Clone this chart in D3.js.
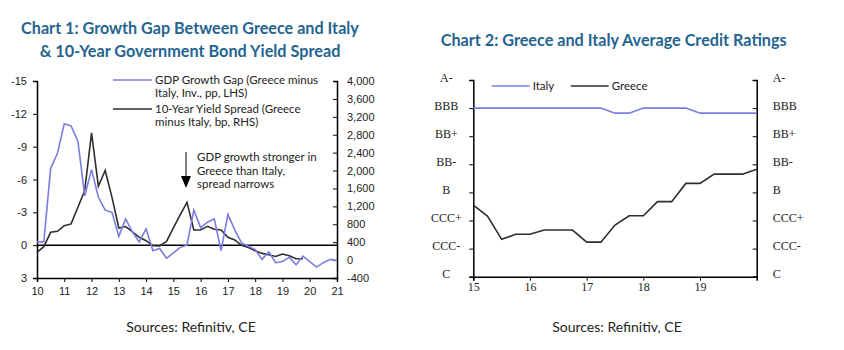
<!DOCTYPE html>
<html>
<head>
<meta charset="utf-8">
<script src="https://cdn.jsdelivr.net/npm/d3@7"></script>
<style>
  body { margin: 0; background: #fff; }
  svg { display: block; font-family: Lato, "Open Sans", sans-serif; }
  .title { fill: #24648f; font-weight: bold; }
  .tick text { fill: #222; font-size: 11px; }
  .serif .tick text { font-family: "Liberation Serif", "DejaVu Serif", serif; font-size: 12px; }
  .lbl { fill: #222; font-size: 11.5px; }
</style>
</head>
<body>
<svg id="chart" width="844" height="350"></svg>
<script>
// Chart 1 data: quarterly 2010Q1 .. 2021Q1
const gdpGap = [-0.3, -0.3, -7.0, -8.4, -11.1, -10.9, -9.5, -4.5, -6.9, -4.4, -3.2, -3.0,
  -0.8, -2.4, -1.2, -0.3, -1.5, 0.5, 0.3, 1.2, 0.7, 0.2, 0.0, -3.2, -1.6, -2.1, -2.4, 0.5,
  -2.8, -1.4, -0.2, 0.1, 0.4, 1.3, 0.6, 1.6, 1.5, 1.1, 1.8, 1.0, 1.5, 2.0, 1.6, 1.3, 1.4];
const yieldSpread = [170, 300, 620, 642, 770, 808, 1180, 1553, 2840, 1650, 2000, 1400,
  718, 750, 630, 510, 434, 322, 315, 418, 720, 1010, 1290, 673, 673, 755, 690, 673,
  508, 450, 330, 280, 210, 150, 120, 80, 136, 98, 30, 30];
const leftTicks = [-15, -12, -9, -6, -3, 0, 3];
const rightTicks = [4000, 3600, 3200, 2800, 2400, 2000, 1600, 1200, 800, 400, 0, -400];
const years1 = [2010, 2011, 2012, 2013, 2014, 2015, 2016, 2017, 2018, 2019, 2020, 2021];

// Chart 2 data: quarterly 2015Q1 .. 2020Q1, rating notch index
const ratingLabels = ["C", "CCC-", "CCC+", "B", "BB-", "BB+", "BBB", "A-"];
const italy = [6, 6, 6, 6, 6, 6, 6, 6, 6, 6, 5.82, 5.82, 6, 6, 6, 6, 5.82, 5.82, 5.82, 5.82, 5.82];
const greece = [2.55, 2.16, 1.33, 1.51, 1.51, 1.66, 1.66, 1.66, 1.23, 1.23, 1.84, 2.17, 2.17,
  2.67, 2.67, 3.32, 3.32, 3.65, 3.65, 3.65, 3.82];
const years2 = [2015, 2016, 2017, 2018, 2019];

const blue = "#7c7ce0";
const dark = "#2e2e2e";

const svg = d3.select("#chart");
const loc = d3.formatLocale({ decimal: ".", thousands: ",", grouping: [3], currency: ["", ""], minus: "-" });

// fit a text element to a target width by adjusting its font size
function fit(sel, w) {
  const cur = sel.node().getComputedTextLength();
  const fs = parseFloat(sel.attr("font-size"));
  sel.attr("font-size", fs * w / cur);
}

// ---------- Chart 1 ----------
const x1 = d3.scaleLinear().domain([2010, 2021]).range([37, 337]);
const yL = d3.scaleLinear().domain([-15, 3]).range([81, 278]);
const yR = d3.scaleLinear().domain([4000, -400]).range([81, 278]);

const t1a = svg.append("text").attr("class", "title").attr("x", 190).attr("y", 34)
  .attr("text-anchor", "middle").attr("font-size", 16)
  .text("Chart 1: Growth Gap Between Greece and Italy");
fit(t1a, 338);
const t1b = svg.append("text").attr("class", "title").attr("x", 190).attr("y", 57)
  .attr("text-anchor", "middle").attr("font-size", 16)
  .text("& 10-Year Government Bond Yield Spread");
fit(t1b, 301);

const g1 = svg.append("g");

g1.append("g").attr("transform", "translate(37,0)")
  .call(d3.axisLeft(yL).tickValues(leftTicks).tickSize(4).tickPadding(6).tickFormat(loc.format("d")))
  .call(g => g.select(".domain").attr("stroke", "#000").attr("stroke-width", 1.5));

g1.append("g").attr("transform", "translate(337,0)")
  .call(d3.axisRight(yR).tickValues(rightTicks).tickSize(-4).tickPadding(10).tickFormat(loc.format(",")))
  .call(g => g.select(".domain").attr("stroke", "#000").attr("stroke-width", 1.5));

g1.append("g").attr("transform", "translate(0,278)")
  .call(d3.axisBottom(x1).tickValues(years1).tickSize(4).tickPadding(5).tickFormat(d => String(d).slice(2)))
  .call(g => g.select(".domain").attr("stroke", "#000").attr("stroke-width", 1.5))
  .call(g => g.selectAll(".tick text").attr("font-size", 12));

g1.append("line")
  .attr("x1", x1(2010)).attr("x2", x1(2021))
  .attr("y1", yL(0)).attr("y2", yL(0))
  .attr("stroke", "#000").attr("stroke-width", 1.5);

const q1 = (d, i) => 2010 + i * 0.25;

g1.append("path").datum(yieldSpread)
  .attr("fill", "none").attr("stroke", dark).attr("stroke-width", 1.6)
  .attr("d", d3.line().x((d, i) => x1(q1(d, i))).y(d => yR(d)));

g1.append("path").datum(gdpGap)
  .attr("fill", "none").attr("stroke", blue).attr("stroke-width", 1.6)
  .attr("d", d3.line().x((d, i) => x1(q1(d, i))).y(d => yL(d)));

// legend
const leg1 = [
  { color: blue, y: 80, lines: ["GDP Growth Gap (Greece minus", "Italy, Inv., pp, LHS)"] },
  { color: dark, y: 109, lines: ["10-Year Yield Spread (Greece", "minus Italy, bp, RHS)"] }
];
leg1.forEach(l => {
  g1.append("line").attr("x1", 113).attr("x2", 152).attr("y1", l.y).attr("y2", l.y)
    .attr("stroke", l.color).attr("stroke-width", 1.6);
  l.lines.forEach((s, k) => {
    g1.append("text").attr("class", "lbl").attr("x", 155).attr("y", l.y + 4 + k * 13).text(s);
  });
});

// annotation
g1.append("line").attr("x1", 186).attr("x2", 186).attr("y1", 152).attr("y2", 177)
  .attr("stroke", "#000").attr("stroke-width", 1);
g1.append("path").attr("d", "M181,176 L191,176 L186,188 Z").attr("fill", "#000");
["GDP growth stronger in", "Greece than Italy,", "spread narrows"].forEach((s, k) => {
  g1.append("text").attr("class", "lbl").attr("x", 197).attr("y", 161 + k * 13.5).text(s);
});

svg.append("text").attr("x", 191).attr("y", 332).attr("text-anchor", "middle")
  .attr("font-size", 14).attr("fill", "#222").text("Sources: Refinitiv, CE");

// ---------- Chart 2 ----------
const x2 = d3.scaleLinear().domain([2015, 2020]).range([473.3, 756.7]);
const y2 = d3.scaleLinear().domain([0, 7]).range([276.7, 80]);

const t2 = svg.append("text").attr("class", "title").attr("x", 613.7).attr("y", 46)
  .attr("text-anchor", "middle").attr("font-size", 16)
  .text("Chart 2: Greece and Italy Average Credit Ratings");
fit(t2, 346);

const g2 = svg.append("g").attr("class", "serif");
const ratingIdx = d3.range(ratingLabels.length);

g2.append("g").attr("transform", "translate(473.3,0)")
  .call(d3.axisLeft(y2).tickValues(ratingIdx).tickSize(4).tickPadding(0).tickFormat(i => ratingLabels[i]))
  .call(g => g.select(".domain").attr("stroke", "#000").attr("stroke-width", 1.5))
  .call(g => g.selectAll(".tick text").attr("text-anchor", "middle").attr("x", -27).attr("dy", "0.1em"));

g2.append("g").attr("transform", "translate(756.7,0)")
  .call(d3.axisRight(y2).tickValues(ratingIdx).tickSize(-4).tickPadding(16).tickFormat(i => ratingLabels[i]))
  .call(g => g.select(".domain").attr("stroke", "#000").attr("stroke-width", 1.5))
  .call(g => g.selectAll(".tick text").attr("dy", "0.1em"));

g2.append("g").attr("transform", "translate(0,276.7)")
  .call(d3.axisBottom(x2).tickValues(years2).tickSize(4).tickPadding(2).tickFormat(d => String(d).slice(2)))
  .call(g => g.select(".domain").attr("stroke", "#000").attr("stroke-width", 1.5));

const q2 = (d, i) => 2015 + i * 0.25;

g2.append("path").datum(greece)
  .attr("fill", "none").attr("stroke", dark).attr("stroke-width", 1.6)
  .attr("d", d3.line().x((d, i) => x2(q2(d, i))).y(d => y2(d)));

g2.append("path").datum(italy)
  .attr("fill", "none").attr("stroke", blue).attr("stroke-width", 1.6)
  .attr("d", d3.line().x((d, i) => x2(q2(d, i))).y(d => y2(d)));

const leg2 = [
  { color: blue, x: 491.7, name: "Italy" },
  { color: dark, x: 570.7, name: "Greece" }
];
leg2.forEach(l => {
  g2.append("line").attr("x1", l.x).attr("x2", l.x + 38).attr("y1", 86).attr("y2", 86)
    .attr("stroke", l.color).attr("stroke-width", 1.6);
  g2.append("text").attr("class", "lbl").attr("x", l.x + 41).attr("y", 90).text(l.name);
});

svg.append("text").attr("x", 617).attr("y", 332).attr("text-anchor", "middle")
  .attr("font-size", 14).attr("fill", "#222").text("Sources: Refinitiv, CE");
</script>
</body>
</html>
